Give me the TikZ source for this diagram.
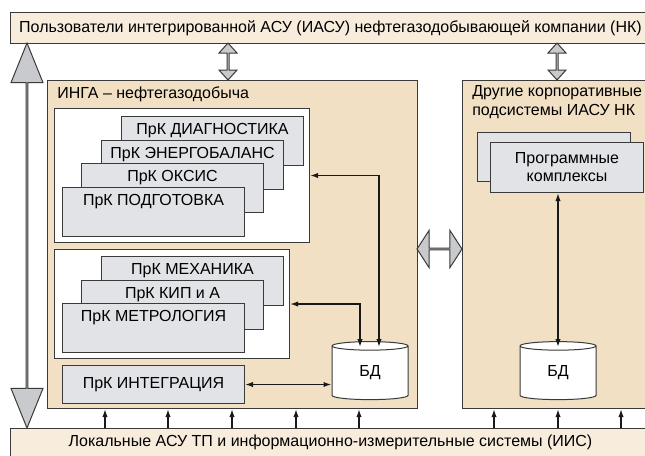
\documentclass[tikz,border=0pt]{standalone}
\usepackage{fontspec}
\setmainfont{Liberation Sans}
\usetikzlibrary{arrows.meta,positioning,shapes.geometric,shapes.arrows,calc}
\definecolor{barfill}{HTML}{F8ECDD}
\definecolor{boxfill}{HTML}{F2E0C5}
\definecolor{cardfill}{HTML}{E2E3E6}
\definecolor{fatfill}{HTML}{C9CACD}
\definecolor{edge}{HTML}{3A3A3A}

\begin{document}
\begin{tikzpicture}[x=0.75pt, y=-0.75pt, font=\fontsize{12}{14}\selectfont,
  bar/.style={draw=edge, fill=barfill, line width=0.75pt, anchor=north west, inner sep=0, minimum width=480pt},
  area/.style={draw=edge, fill=boxfill, line width=0.75pt, anchor=north west, inner sep=0, minimum height=246pt},
  grp/.style={draw=edge, fill=white, line width=0.75pt, anchor=north west, inner sep=0},
  card/.style={draw=edge, fill=cardfill, line width=0.75pt, anchor=north west, minimum width=136.5pt,
    inner xsep=0, inner ysep=3pt, text height=10.7pt, text depth=20.05pt},
  db/.style={cylinder, shape border rotate=90, aspect=0.4, draw=edge, fill=white, line width=0.75pt,
    minimum width=57pt, minimum height=43.5pt, inner sep=0},
  fat/.style={double arrow, draw=edge, fill=fatfill, line width=0.75pt, inner sep=0},
  ttl/.style={anchor=west, inner sep=0},
  lnk/.style={{Latex[length=6pt,width=4pt]}-{Latex[length=6pt,width=4pt]}, line width=1.1pt, black!90},
  up/.style={-{Latex[length=6pt,width=4pt]}, line width=1.1pt, black!90}]
\clip (0,0) rectangle (645,455);
% users and local systems
\node[bar, minimum height=23.25pt] (users) at (10,12) {Пользователи интегрированной АСУ (ИАСУ) нефтегазодобывающей компании (НК)};
\node[bar, minimum height=21pt] (local) at (10,428) {Локальные АСУ ТП и информационно-измерительные системы (ИИС)};
% the two subsystems
\node[area, minimum width=277.5pt] (inga) at (47,80) {};
\node[ttl] (ingattl) at (57,94) {ИНГА -- нефтегазодобыча};
\node[area, minimum width=150pt] (other) at (462,80) {};
\node[ttl, anchor=north west, align=left, font=\fontsize{12}{14.25}\selectfont] (otherttl) at (472,85) {Другие корпоративные\\подсистемы ИАСУ НК};
% first group of program complexes
\node[grp, minimum width=191.25pt, minimum height=100.5pt] (grp1) at (54,108) {};
\node[card] (diag) at (121,116) {ПрК ДИАГНОСТИКА};
\node[card] (energ) at ($(diag.north west)+(-20,23.5)$) {ПрК ЭНЕРГОБАЛАНС};
\node[card] (oksis) at ($(energ.north west)+(-20,23.5)$) {ПрК ОКСИС};
\node[card] (podg) at ($(oksis.north west)+(-19,23.5)$) {ПрК ПОДГОТОВКА};
% second group
\node[grp, minimum width=176.25pt, minimum height=81.75pt] (grp2) at (54,249) {};
\node[card] (mech) at (101,256) {ПрК МЕХАНИКА};
\node[card] (kip) at ($(mech.north west)+(-20,23.5)$) {ПрК КИП и А};
\node[card] (metr) at ($(kip.north west)+(-19,23.5)$) {ПрК МЕТРОЛОГИЯ};
\node[card, text height=, text depth=, minimum height=28.5pt, inner ysep=0] (integ) at (62,365) {ПрК ИНТЕГРАЦИЯ};
\node[db] (bd1) at (370,373) {БД};
% other subsystems
\node[card, minimum width=114.75pt, text height=, text depth=, minimum height=36.75pt] (progb) at (477,132) {};
\node[card, minimum width=114.75pt, text height=, text depth=, minimum height=37.5pt, align=center,
  font=\fontsize{12}{13.5}\selectfont] (prog) at (490,142) {Программные\\комплексы};
\node[db] (bd2) at (558,373) {\raisebox{-7.5pt}{БД}};
% exchange arrows
\node[fat, rotate=90, minimum height=288.75pt, minimum width=24pt, double arrow head extend=6.4pt, double arrow tip angle=44] (ua) at (27,235.5) {};
\node[fat, rotate=90, minimum height=27.75pt, minimum width=13.5pt, double arrow head extend=3pt, double arrow tip angle=84] (ui) at (228,61.5) {};
\node[fat, rotate=90, minimum height=27.75pt, minimum width=13.5pt, double arrow head extend=3pt, double arrow tip angle=84] (uo) at (557,61.5) {};
\node[fat, minimum height=33.75pt, minimum width=27.75pt, double arrow head extend=6.75pt, double arrow tip angle=114] (io) at (439.5,249) {};
% links to the data bases
\draw[lnk] (grp1.east) -| ($(bd1.north)+(9,6)$);
\draw[lnk] (grp2.east) -| ($(bd1.north)+(-10,6)$);
\draw[lnk] (integ.east) -- (integ.east -| bd1.west);
\draw[lnk] (prog.south -| bd2.north) -- ($(bd2.north)+(0,6)$);
\foreach \x/\t in {105/inga,168/inga,232/inga,296/inga,359/inga,494/other,558/other,621/other}
  \draw[up] (local.north -| \x,0) -- (\t.south -| \x,0);
\end{tikzpicture}
\end{document}
